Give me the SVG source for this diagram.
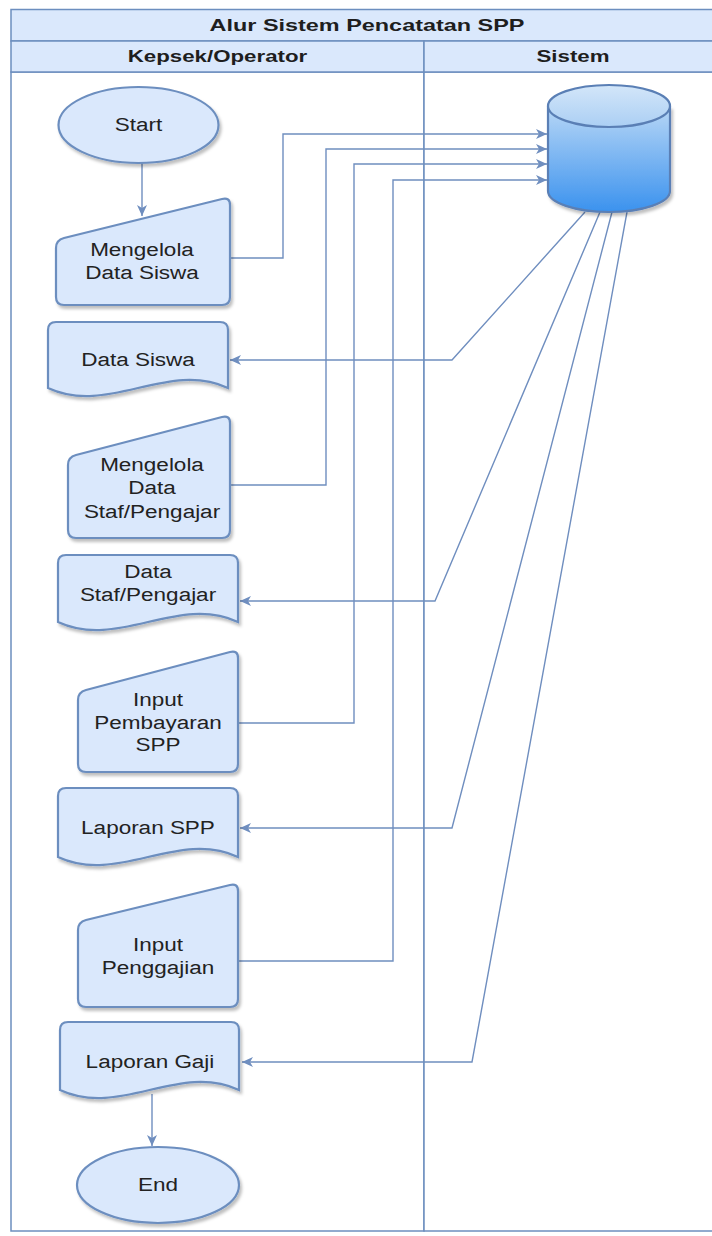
<svg xmlns="http://www.w3.org/2000/svg" width="712" height="1236" viewBox="0 0 712 1236">
<defs>
<style>
.hdr{fill:#dae8fc;stroke:#6c8ebf;stroke-width:1.5}
.lane{fill:#ffffff;stroke:#6c8ebf;stroke-width:1.5}
.node{fill:#dae8fc;stroke:#6c8ebf;stroke-width:2.2;filter:url(#sh)}
.ht{font-family:"Liberation Sans",Arial,sans-serif;font-size:16.5px;font-weight:bold;fill:#1e1e1e;text-anchor:middle}
.nt{font-family:"Liberation Sans",Arial,sans-serif;font-size:18px;fill:#222;text-anchor:middle}
.con{fill:none;stroke:#6f8ebf;stroke-width:1.4}
.glow{fill:none;stroke:#dde8f8;stroke-width:4}
</style>
<filter id="sh" x="-20%" y="-20%" width="140%" height="140%">
<feDropShadow dx="2" dy="3" stdDeviation="1.5" flood-color="#000" flood-opacity="0.25"/>
</filter>
<linearGradient id="dbg" x1="0" y1="0" x2="0" y2="1">
<stop offset="0" stop-color="#b8d7f6"/>
<stop offset="1" stop-color="#3b92ee"/>
</linearGradient>
<linearGradient id="dbt" x1="0" y1="0" x2="0" y2="1">
<stop offset="0" stop-color="#d3e6f9"/>
<stop offset="1" stop-color="#abcff4"/>
</linearGradient>
<marker id="ah" markerUnits="userSpaceOnUse" markerWidth="12" markerHeight="10" refX="11" refY="5" orient="auto">
<path d="M0,0 L11,5 L0,10 L3,5 Z" fill="#6f8ebf"/>
</marker>
</defs>

<g id="pool">
<rect class="lane" x="11" y="72" width="413" height="1159"/>
<rect class="lane" x="424" y="72" width="300" height="1159"/>
<rect class="hdr" x="11" y="9.5" width="713" height="31.5"/>
<rect class="hdr" x="11" y="41" width="413" height="31"/>
<rect class="hdr" x="424" y="41" width="300" height="31"/>
<text class="ht" transform="translate(367,25) scale(1.42,1)" dy=".36em">Alur Sistem Pencatatan SPP</text>
<text class="ht" transform="translate(217.5,56.5) scale(1.35,1)" dy=".36em">Kepsek/Operator</text>
<text class="ht" transform="translate(573,56.5) scale(1.35,1)" dy=".36em">Sistem</text>
</g>

<g id="connectors">
<path class="con" d="M142,163 V216" marker-end="url(#ah)"/>
<path class="con" d="M230,258 H283 V134 H547" marker-end="url(#ah)"/>
<path class="con" d="M230,485 H326 V149 H547" marker-end="url(#ah)"/>
<path class="con" d="M238,723 H354 V164 H547" marker-end="url(#ah)"/>
<path class="con" d="M238,961 H393 V180 H547" marker-end="url(#ah)"/>
<path class="con" d="M585,212 L452,360 H230" marker-end="url(#ah)"/>
<path class="con" d="M600,212 L435,601 H240" marker-end="url(#ah)"/>
<path class="con" d="M612,212 L452,828 H240" marker-end="url(#ah)"/>
<path class="con" d="M627,212 L472,1062 H242" marker-end="url(#ah)"/>
<path class="con" d="M152,1094 V1146" marker-end="url(#ah)"/>
</g>

<g id="start">
<ellipse class="node" cx="138.5" cy="125" rx="80" ry="38"/>
<text class="nt" transform="translate(138.5,125) scale(1.25,1)" dy=".36em">Start</text>
</g>

<g id="db">
<path d="M548,106 V191 A61,21 0 0 0 670,191 V106" fill="url(#dbg)" stroke="#5a7fb5" stroke-width="2.2" filter="url(#sh)"/>
<ellipse cx="609" cy="106" rx="61" ry="21" fill="url(#dbt)" stroke="#5a7fb5" stroke-width="2.2"/>
</g>

<g id="mengelola-data-siswa">
<path class="node" d="M56,248 Q56,240 64,238 L222,199 Q230,197 230,205 L230,297 Q230,305 222,305 L64,305 Q56,305 56,297 Z"/>
<text class="nt" transform="translate(142,250) scale(1.25,1)" dy=".36em">Mengelola</text>
<text class="nt" transform="translate(142,273) scale(1.25,1)" dy=".36em">Data Siswa</text>
</g>

<g id="data-siswa">
<path class="node" d="M56,322 H220 Q228,322 228,330 V388 C168,360 108,416 48,388 V330 Q48,322 56,322 Z"/>
<text class="nt" transform="translate(138,360) scale(1.25,1)" dy=".36em">Data Siswa</text>
</g>

<g id="mengelola-data-staf">
<path class="node" d="M68,465 Q68,457 76,455 L222,417 Q230,415 230,423 L230,530 Q230,538 222,538 L76,538 Q68,538 68,530 Z"/>
<text class="nt" transform="translate(152,465) scale(1.25,1)" dy=".36em">Mengelola</text>
<text class="nt" transform="translate(152,488) scale(1.25,1)" dy=".36em">Data</text>
<text class="nt" transform="translate(152,512) scale(1.25,1)" dy=".36em">Staf/Pengajar</text>
</g>

<g id="data-staf">
<path class="node" d="M66,555 H230 Q238,555 238,563 V622 C178,594 118,650 58,622 V563 Q58,555 66,555 Z"/>
<text class="nt" transform="translate(148,572) scale(1.25,1)" dy=".36em">Data</text>
<text class="nt" transform="translate(148,595) scale(1.25,1)" dy=".36em">Staf/Pengajar</text>
</g>

<g id="input-pembayaran">
<path class="node" d="M78,700 Q78,692 86,690 L230,652 Q238,650 238,658 L238,764 Q238,772 230,772 L86,772 Q78,772 78,764 Z"/>
<text class="nt" transform="translate(158,700) scale(1.25,1)" dy=".36em">Input</text>
<text class="nt" transform="translate(158,723) scale(1.25,1)" dy=".36em">Pembayaran</text>
<text class="nt" transform="translate(158,745) scale(1.25,1)" dy=".36em">SPP</text>
</g>

<g id="laporan-spp">
<path class="node" d="M66,788 H230 Q238,788 238,796 V857 C178,829 118,885 58,857 V796 Q58,788 66,788 Z"/>
<text class="nt" transform="translate(148,828) scale(1.25,1)" dy=".36em">Laporan SPP</text>
</g>

<g id="input-penggajian">
<path class="node" d="M78,930 Q78,922 86,920 L230,885 Q238,883 238,891 L238,999 Q238,1007 230,1007 L86,1007 Q78,1007 78,999 Z"/>
<text class="nt" transform="translate(158,945) scale(1.25,1)" dy=".36em">Input</text>
<text class="nt" transform="translate(158,968) scale(1.25,1)" dy=".36em">Penggajian</text>
</g>

<g id="laporan-gaji">
<path class="node" d="M68,1022 H231 Q239,1022 239,1030 V1090 C179,1062 120,1118 60,1090 V1030 Q60,1022 68,1022 Z"/>
<text class="nt" transform="translate(150,1062) scale(1.25,1)" dy=".36em">Laporan Gaji</text>
</g>

<g id="end">
<ellipse class="node" cx="158" cy="1185" rx="81" ry="38"/>
<text class="nt" transform="translate(158,1185) scale(1.25,1)" dy=".36em">End</text>
</g>
</svg>
